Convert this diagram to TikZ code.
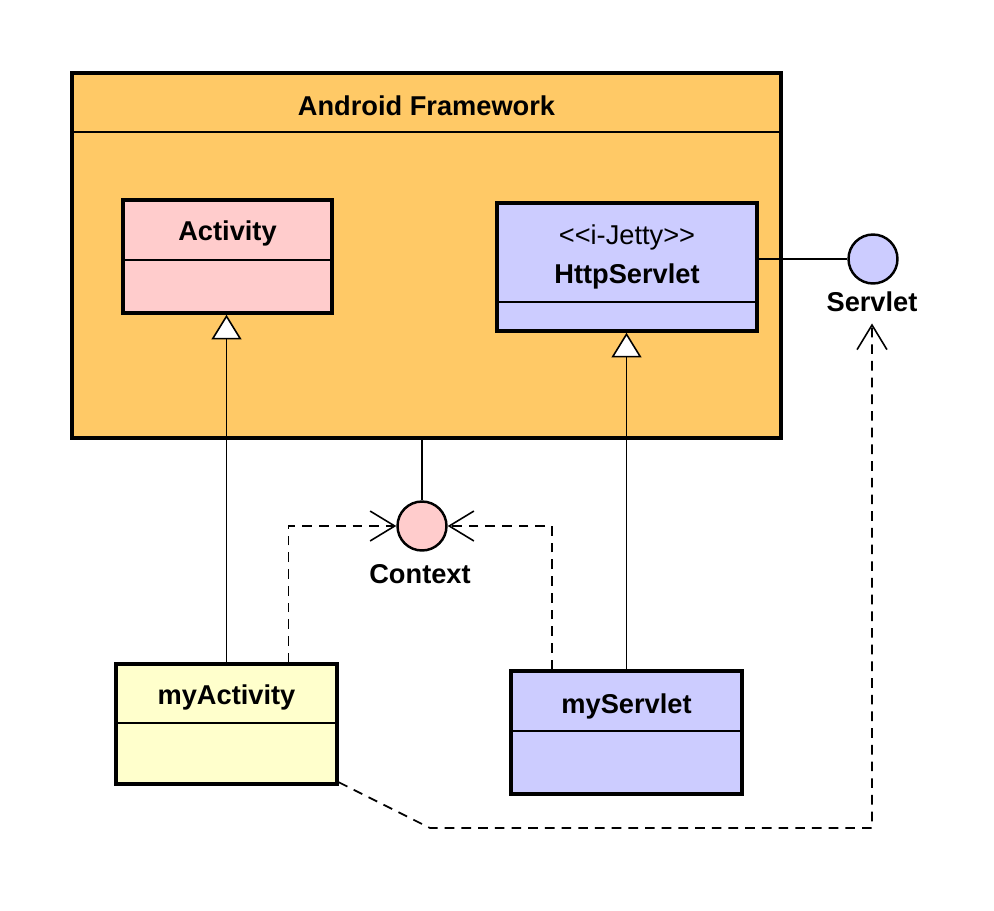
\documentclass[tikz,border=0pt]{standalone}
\usepackage{fontspec}
\setmainfont{Liberation Sans}
\usetikzlibrary{arrows.meta}
\definecolor{pkgorange}{RGB}{255,201,102}
\definecolor{actpink}{RGB}{255,204,204}
\definecolor{srvblue}{RGB}{204,204,255}
\definecolor{myyellow}{RGB}{255,255,204}
\begin{document}
\begin{tikzpicture}[x=0.02cm, y=-0.02cm,
	every node/.style={font=\fontsize{15.5}{18}\selectfont},
	umlbox/.style={draw=black, shape=rectangle, line width=2pt, inner sep=0pt},
	iface/.style={draw=black, shape=circle, line width=1.4pt, inner sep=0pt, minimum size=0.98cm},
	divider/.style={line width=1pt},
	link/.style={line width=1pt},
	inherit/.style={line width=1pt, -{Triangle[fill=white, length=14pt, width=17pt, line width=0.9pt]}},
	dep/.style={line width=1pt, dash pattern=on 5.5pt off 4pt, -{Straight Barb[length=14pt, width=17pt, line width=0.9pt]}}]
	\useasboundingbox (0,0) rectangle (994,910);

	\node[umlbox, fill=pkgorange, line width=2.2pt, minimum width=14.18cm, minimum height=7.3cm] (p_fw) at (426.5,255.5) {};
	\node (p_fw_title) at (426.5,106) {\bfseries Android Framework};
	\draw[divider] ([yshift=-1.22cm]p_fw.north west) -- ([yshift=-1.22cm]p_fw.north east);

	\node[umlbox, fill=actpink, minimum width=4.18cm, minimum height=2.26cm] (c_act) at (227.5,256.5) {};
	\node (c_act_name) at (227.5,233) {\bfseries Activity};
	\draw[divider] ([yshift=-1.24cm]c_act.north west) -- ([yshift=-1.24cm]c_act.north east);

	\node[umlbox, fill=srvblue, minimum width=5.2cm, minimum height=2.56cm] (c_http) at (627,267) {};
	\node (c_http_st) at (627,237) {{<}{<}i-Jetty{>}{>}};
	\node (c_http_name) at (627,276) {\bfseries HttpServlet};
	\draw[divider] ([yshift=-2.02cm]c_http.north west) -- ([yshift=-2.02cm]c_http.north east);

	\node[umlbox, fill=myyellow, minimum width=4.42cm, minimum height=2.4cm] (c_myact) at (226.5,724) {};
	\node (c_myact_name) at (226.5,697) {\bfseries myActivity};
	\draw[divider] ([yshift=-1.22cm]c_myact.north west) -- ([yshift=-1.22cm]c_myact.north east);

	\node[umlbox, fill=srvblue, minimum width=4.62cm, minimum height=2.46cm] (c_mysrv) at (626.5,732.5) {};
	\node (c_mysrv_name) at (626.5,706) {\bfseries myServlet};
	\draw[divider] ([yshift=-1.24cm]c_mysrv.north west) -- ([yshift=-1.24cm]c_mysrv.north east);

	\node[iface, fill=actpink] (i_ctx) at (422,526) {};
	\node (i_ctx_name) at (420,574) {\bfseries Context};
	\node[iface, fill=srvblue] (i_srv) at (873,259) {};
	\node (i_srv_name) at (872,302) {\bfseries Servlet};

	\coordinate (bend) at (430,828);

	\draw[link] (i_ctx |- p_fw.south) -- (i_ctx.north);
	\draw[link] (c_http.east |- i_srv.west) -- (i_srv.west);
	\draw[inherit] (c_myact.north) -- (c_myact.north |- c_act.south);
	\draw[inherit] (c_mysrv.north) -- (c_mysrv.north |- c_http.south);
	\draw[dep] ([xshift=1.24cm]c_myact.north) |- (i_ctx.west);
	\draw[dep] ([xshift=-1.49cm]c_mysrv.north) |- (i_ctx.east);
	\draw[dep] ([yshift=2pt]c_myact.south east) -- (bend) -| ([yshift=-3pt]i_srv_name.south);
\end{tikzpicture}
\end{document}
